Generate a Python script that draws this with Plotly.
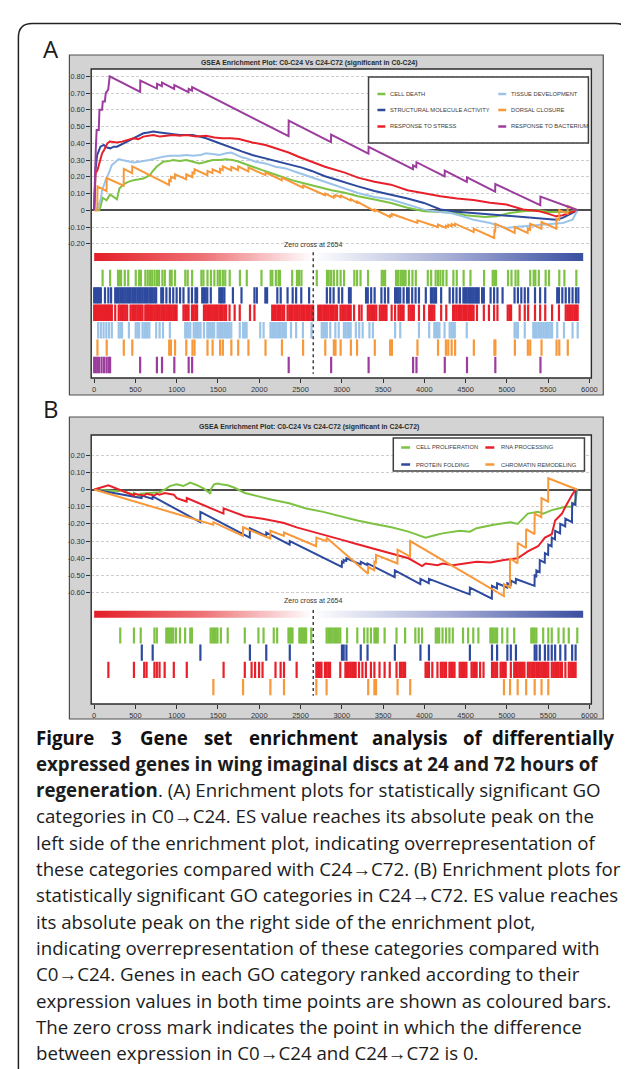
import numpy as np
import plotly.graph_objects as go

W, H = 629, 1069

# ---------------- DATA ----------------
x_tick_vals = [0, 500, 1000, 1500, 2000, 2500, 3000, 3500, 4000, 4500, 5000, 5500, 6000]
es_ticks_a = [0.8, 0.7, 0.6, 0.5, 0.4, 0.3, 0.2, 0.1, 0.0, -0.1, -0.2]
es_ticks_b = [0.2, 0.1, 0.0, -0.1, -0.2, -0.3, -0.4, -0.5, -0.6]
zero_cross = 2654
n_ranked = 5930

title_a = "GSEA Enrichment Plot: C0-C24 Vs C24-C72 (significant in C0-C24)"
title_b = "GSEA Enrichment Plot: C0-C24 Vs C24-C72 (significant in C24-C72)"

# ---- panel A : running enrichment scores (rank, ES) ----
a_cell_death_curve = [(0,0),(60,0.0),(76,0.02),(102,0.075),(150,0.06),(193,0.095),(276,0.065),(305,0.13),(326,0.14),(371,0.16),(413,0.17),(476,0.18),(545,0.185),(596,0.19),(676,0.21),(703,0.23),(756,0.26),(785,0.27),(836,0.29),(918,0.295),(956,0.30),(1036,0.295),(1116,0.30),(1196,0.29),(1276,0.28),(1324,0.285),(1373,0.29),(1436,0.30),(1526,0.30),(1596,0.305),(1676,0.30),(1756,0.29),(1836,0.275),(1916,0.26),(2036,0.24),(2156,0.22),(2276,0.20),(2396,0.18),(2516,0.165),(2636,0.15),(2756,0.135),(2876,0.12),(3036,0.105),(3196,0.084),(3396,0.065),(3596,0.044),(3796,0.015),(3996,-0.006),(4196,-0.01),(4396,-0.016),(4496,-0.03),(4596,-0.036),(4736,-0.04),(4876,-0.036),(5036,-0.016),(5196,-0.006),(5396,0.0),(5496,-0.01),(5596,-0.01),(5756,-0.01),(5856,0)]
a_structural_curve = [(0,0),(10,0.15),(16,0.24),(36,0.33),(56,0.36),(76,0.38),(116,0.39),(156,0.375),(196,0.37),(236,0.38),(276,0.38),(356,0.40),(416,0.415),(476,0.43),(536,0.445),(596,0.46),(656,0.465),(716,0.47),(796,0.465),(876,0.46),(956,0.455),(1036,0.45),(1116,0.45),(1196,0.45),(1276,0.44),(1356,0.43),(1436,0.415),(1516,0.40),(1596,0.385),(1676,0.37),(1796,0.35),(1916,0.33),(2036,0.315),(2156,0.30),(2276,0.285),(2396,0.27),(2516,0.255),(2636,0.235),(2796,0.203),(2916,0.185),(3036,0.165),(3196,0.143),(3396,0.115),(3596,0.094),(3796,0.07),(3996,0.044),(4196,0.005),(4396,-0.008),(4596,-0.016),(4796,-0.025),(4996,-0.036),(5136,-0.04),(5276,-0.046),(5436,-0.05),(5596,-0.056),(5676,-0.045),(5756,-0.026),(5856,0)]
a_stress_curve = [(0,0),(10,0.12),(16,0.22),(40,0.24),(56,0.27),(80,0.30),(96,0.34),(120,0.36),(136,0.38),(160,0.40),(188,0.41),(276,0.405),(336,0.41),(396,0.42),(476,0.43),(536,0.425),(596,0.44),(716,0.45),(796,0.44),(876,0.445),(956,0.45),(1036,0.445),(1116,0.45),(1236,0.44),(1356,0.445),(1456,0.435),(1556,0.43),(1656,0.43),(1756,0.425),(1836,0.415),(1916,0.405),(2076,0.39),(2236,0.365),(2356,0.345),(2476,0.32),(2636,0.29),(2796,0.26),(3036,0.225),(3196,0.195),(3396,0.17),(3596,0.153),(3796,0.12),(3996,0.10),(4196,0.084),(4396,0.07),(4596,0.062),(4796,0.045),(4996,0.034),(5196,0.005),(5396,-0.006),(5496,-0.02),(5596,-0.036),(5676,-0.03),(5756,-0.016),(5856,0)]
a_tissue_curve = [(0,0),(20,0.005),(48,0.02),(60,0.035),(81,0.07),(96,0.12),(114,0.15),(147,0.19),(176,0.22),(196,0.245),(214,0.27),(236,0.28),(297,0.305),(338,0.30),(421,0.29),(476,0.285),(545,0.29),(636,0.295),(669,0.30),(751,0.31),(834,0.32),(917,0.325),(1036,0.325),(1123,0.33),(1196,0.325),(1289,0.33),(1356,0.34),(1454,0.335),(1516,0.33),(1599,0.34),(1661,0.345),(1796,0.315),(1847,0.31),(1956,0.29),(2076,0.28),(2196,0.26),(2322,0.25),(2436,0.23),(2556,0.21),(2676,0.19),(2796,0.173),(2996,0.14),(3196,0.103),(3396,0.08),(3596,0.064),(3796,0.035),(3996,0.004),(4186,-0.01),(4316,-0.016),(4456,-0.035),(4596,-0.056),(4796,-0.076),(4996,-0.105),(5096,-0.10),(5196,-0.096),(5316,-0.09),(5436,-0.086),(5556,-0.08),(5676,-0.076),(5796,-0.056),(5856,0)]
a_dorsal_curve = [(0,0),(38,0),(40,0.143),(150,0.115),(152,0.193),(357,0.147),(359,0.247),(460,0.222),(462,0.263),(907,0.152),(909,0.18),(928,0.175),(930,0.20),(978,0.19),(980,0.215),(1114,0.185),(1116,0.215),(1189,0.198),(1191,0.225),(1214,0.22),(1216,0.245),(1371,0.21),(1373,0.235),(1433,0.222),(1435,0.245),(1524,0.225),(1526,0.248),(1557,0.24),(1559,0.262),(1660,0.238),(1662,0.26),(1743,0.24),(1745,0.262),(1867,0.232),(1869,0.255),(2074,0.21),(2076,0.225),(2273,0.18),(2275,0.195),(2529,0.135),(2531,0.148),(2798,0.09),(2800,0.10),(2902,0.075),(2904,0.086),(2922,0.082),(2924,0.092),(2984,0.078),(2986,0.088),(3108,0.058),(3110,0.066),(3183,0.045),(3185,0.052),(3398,-0.005),(3400,0.004),(3584,-0.04),(3586,-0.03),(3605,-0.035),(3607,-0.022),(3915,-0.075),(3917,-0.06),(4164,-0.10),(4166,-0.085),(4259,-0.105),(4261,-0.092),(4288,-0.098),(4290,-0.086),(4329,-0.095),(4331,-0.082),(4371,-0.092),(4373,-0.08),(4598,-0.13),(4600,-0.11),(4847,-0.165),(4849,-0.12),(4859,-0.123),(4861,-0.08),(5095,-0.135),(5097,-0.10),(5252,-0.135),(5254,-0.11),(5281,-0.117),(5283,-0.08),(5418,-0.11),(5420,-0.07),(5600,-0.11),(5602,-0.05),(5633,-0.057),(5635,0.0),(5736,-0.02),(5738,0.025),(5860,0)]
a_bacterium_curve = [(0,0),(8,0.24),(20,0.37),(30,0.48),(56,0.48),(64,0.60),(96,0.60),(104,0.65),(130,0.65),(140,0.70),(170,0.72),(188,0.80),(557,0.707),(559,0.775),(760,0.727),(762,0.755),(820,0.741),(822,0.762),(969,0.725),(971,0.748),(1143,0.705),(1145,0.725),(1185,0.715),(1187,0.735),(2355,0.443),(2357,0.535),(2869,0.407),(2871,0.452),(3323,0.339),(3325,0.379),(3862,0.245),(3864,0.268),(3903,0.258),(3905,0.287),(4246,0.202),(4248,0.237),(4515,0.170),(4517,0.197),(4858,0.112),(4860,0.157),(5405,0.03),(5407,0.082),(5860,0.0)]

# ---- panel A : gene-set member ranks ----
a_cell_death_hits = [102,193,289,305,326,371,413,504,545,566,620,649,678,703,732,761,785,827,856,918,939,980,1104,1133,1187,1299,1324,1373,1415,1456,1497,1526,1559,1588,1642,1766,1849,2027,2139,2159,2201,2234,2250,2399,2457,2482,2511,2697,2821,2842,2871,2904,2945,2986,3028,3152,3185,3227,3318,3484,3504,3525,3657,3682,3711,3732,3752,3773,3814,3856,3897,4042,4083,4137,4166,4195,4228,4269,4352,4393,4476,4559,4724,4828,4849,4869,5014,5056,5105,5138,5283,5325,5345,5387,5470,5511,5635,5697,5842]
a_structural_hits = [0,15,32,48,65,81,131,172,205,255,276,297,317,338,359,379,400,421,441,462,483,503,524,545,565,586,607,627,648,669,689,710,731,751,813,834,875,917,958,999,1041,1082,1144,1185,1227,1247,1309,1330,1351,1371,1413,1516,1537,1557,1578,1681,1785,1942,1971,2074,2095,2219,2260,2343,2405,2447,2509,2604,2819,2860,2901,2963,3005,3087,3108,3294,3315,3356,3398,3480,3522,3563,3646,3667,3687,3708,3749,3791,3811,3853,3894,3935,4018,4080,4101,4121,4142,4204,4307,4349,4390,4431,4473,4493,4514,4535,4555,4576,4597,4617,4638,4659,4700,4721,4803,4845,4886,4948,5093,5134,5175,5217,5258,5341,5403,5465,5610,5631,5672,5713,5755,5796,5837,5866]
a_stress_hits = [0,15,32,48,65,81,98,114,131,147,164,180,197,214,255,297,317,338,359,379,400,441,462,483,503,524,545,565,586,619,636,652,669,689,710,731,751,772,793,813,834,855,875,896,917,937,958,979,999,1082,1103,1123,1144,1185,1206,1227,1247,1330,1351,1371,1392,1413,1433,1454,1475,1495,1516,1537,1557,1578,1599,1640,1702,1764,1888,1942,2157,2178,2198,2219,2240,2260,2281,2302,2343,2364,2385,2405,2426,2447,2467,2488,2509,2529,2550,2571,2591,2612,2633,2653,2715,2736,2756,2777,2798,2819,2839,2860,2881,2901,2922,2943,2984,3005,3025,3046,3067,3087,3108,3149,3211,3240,3315,3335,3356,3377,3398,3418,3460,3480,3501,3522,3542,3604,3646,3687,3708,3728,3749,3811,3832,3853,3873,3935,3997,4059,4080,4101,4121,4204,4266,4349,4369,4390,4411,4431,4452,4473,4493,4514,4535,4555,4576,4597,4638,4721,4783,4845,4886,5010,5031,5051,5155,5217,5258,5341,5403,5465,5548,5631,5713,5734,5755,5775,5796,5817,5837,5858]
a_tissue_hits = [48,81,114,147,180,214,297,317,338,421,503,524,545,586,607,627,648,669,751,793,834,917,1103,1123,1144,1165,1206,1227,1247,1268,1289,1330,1371,1392,1413,1433,1454,1495,1516,1537,1557,1578,1599,1619,1640,1661,1764,1805,1826,1847,2012,2053,2136,2157,2178,2198,2219,2240,2260,2281,2302,2322,2385,2447,2529,2633,2757,2777,2798,2819,2860,2922,2963,3025,3046,3067,3087,3108,3170,3211,3253,3335,3377,3646,3708,3935,4059,4121,4142,4163,4183,4245,4307,4328,4349,4369,4514,5093,5113,5134,5217,5320,5341,5361,5382,5403,5423,5444,5465,5486,5506,5527,5548,5610,5692,5796,5858]
a_dorsal_hits = [40,152,359,462,909,930,980,1116,1191,1216,1373,1435,1526,1559,1662,1745,1869,2076,2275,2531,2800,2904,2924,2986,3110,3185,3400,3586,3607,3917,4166,4261,4290,4331,4373,4600,4849,4861,5097,5254,5283,5420,5602,5635,5738]
a_bacterium_hits = [0,20,40,60,90,120,150,175,193,557,760,822,971,1145,1187,2357,2871,3325,3864,3905,4248,4517,4860,5407]

# ---- panel B : running enrichment scores (rank, ES) ----
b_proliferation_curve = [(0,0),(150,-0.005),(296,-0.01),(316,-0.005),(480,-0.03),(482,-0.02),(562,-0.04),(564,-0.025),(709,-0.02),(792,-0.016),(874,0.005),(916,0.02),(998,0.03),(1081,0.02),(1102,0.025),(1164,0.04),(1246,0.025),(1329,0.005),(1409,-0.025),(1411,0.0),(1453,0.03),(1494,0.035),(1535,0.03),(1618,0.025),(1701,0.01),(1825,-0.02),(1990,-0.04),(2155,-0.06),(2362,-0.08),(2568,-0.11),(2775,-0.13),(2982,-0.155),(3188,-0.18),(3395,-0.20),(3601,-0.22),(3808,-0.245),(4015,-0.28),(4139,-0.265),(4221,-0.255),(4428,-0.24),(4552,-0.245),(4634,-0.225),(4841,-0.205),(5048,-0.19),(5131,-0.20),(5254,-0.14),(5378,-0.13),(5440,-0.14),(5544,-0.12),(5626,-0.11),(5709,-0.10),(5791,-0.10),(5833,-0.06),(5853,0)]
b_rna_curve = [(0,0),(170,0.02),(172,0.024),(482,-0.035),(484,-0.025),(606,-0.035),(635,-0.025),(730,-0.035),(759,-0.025),(792,-0.03),(854,-0.02),(965,-0.03),(1000,-0.05),(1120,-0.07),(1122,-0.05),(1566,-0.14),(1568,-0.11),(1825,-0.155),(1998,-0.165),(2040,-0.17),(2197,-0.185),(2300,-0.195),(2453,-0.22),(2692,-0.25),(2858,-0.27),(2982,-0.29),(3168,-0.315),(3395,-0.345),(3601,-0.37),(3808,-0.40),(3973,-0.445),(4015,-0.43),(4159,-0.44),(4221,-0.43),(4345,-0.44),(4510,-0.43),(4634,-0.42),(4800,-0.425),(4965,-0.41),(5131,-0.40),(5254,-0.36),(5378,-0.33),(5461,-0.28),(5544,-0.26),(5585,-0.18),(5668,-0.14),(5709,-0.10),(5791,-0.03),(5833,0)]
b_folding_curve = [(0,0),(575,-0.05),(577,-0.035),(707,-0.055),(709,-0.04),(1285,-0.19),(1287,-0.13),(1885,-0.28),(1887,-0.225),(2083,-0.27),(2085,-0.25),(2368,-0.32),(2370,-0.30),(3000,-0.45),(3002,-0.42),(3021,-0.425),(3023,-0.41),(3054,-0.415),(3056,-0.40),(3228,-0.435),(3230,-0.42),(3310,-0.44),(3312,-0.43),(3641,-0.51),(3643,-0.47),(3951,-0.55),(3953,-0.52),(4054,-0.545),(4056,-0.52),(4550,-0.61),(4552,-0.57),(4818,-0.635),(4820,-0.56),(4880,-0.575),(4882,-0.545),(5004,-0.57),(5006,-0.545),(5046,-0.555),(5048,-0.53),(5108,-0.545),(5110,-0.52),(5335,-0.56),(5337,-0.50),(5356,-0.505),(5358,-0.47),(5397,-0.48),(5399,-0.41),(5459,-0.425),(5461,-0.37),(5500,-0.38),(5502,-0.32),(5542,-0.33),(5544,-0.28),(5583,-0.29),(5585,-0.24),(5645,-0.255),(5647,-0.20),(5707,-0.215),(5709,-0.17),(5789,-0.19),(5791,-0.08),(5831,-0.09),(5833,0.0),(5850,0.0)]
b_chromatin_curve = [(0,0),(1442,-0.205),(1444,-0.19),(1802,-0.27),(1804,-0.22),(2133,-0.285),(2135,-0.24),(2298,-0.27),(2300,-0.25),(2690,-0.33),(2692,-0.28),(2814,-0.30),(2816,-0.28),(3318,-0.49),(3320,-0.45),(3393,-0.47),(3395,-0.42),(3413,-0.425),(3415,-0.38),(3674,-0.43),(3676,-0.35),(3827,-0.39),(3829,-0.30),(4963,-0.62),(4965,-0.55),(5037,-0.57),(5039,-0.40),(5129,-0.43),(5131,-0.31),(5232,-0.34),(5234,-0.23),(5335,-0.26),(5337,-0.14),(5418,-0.16),(5420,-0.05),(5500,-0.07),(5502,0.065),(5850,0.0)]

# ---- panel B : gene-set member ranks ----
b_proliferation_hits = [316,482,564,730,759,874,895,916,936,957,990,1040,1102,1164,1184,1411,1432,1453,1473,1494,1535,1618,1825,1990,2052,2176,2217,2354,2370,2387,2403,2486,2502,2519,2535,2552,2568,2630,2816,2837,2858,2878,2899,2920,2940,2961,2982,3064,3188,3271,3312,3353,3395,3415,3436,3519,3663,3767,3891,3932,3973,4139,4159,4180,4221,4263,4304,4345,4469,4531,4593,4655,4800,4820,4841,4862,4882,4944,5006,5089,5296,5316,5337,5358,5440,5502,5544,5626,5688,5750,5853]
b_folding_hits = [577,709,1287,1887,2085,2370,3002,3023,3056,3230,3312,3643,3953,4056,4552,4820,4882,5006,5048,5110,5337,5358,5399,5461,5502,5544,5585,5647,5709,5791,5833]
b_rna_hits = [172,482,606,635,730,759,792,854,965,1122,1568,1825,1907,1949,1998,2040,2197,2259,2300,2453,2692,2713,2734,2754,2796,2816,2837,2858,2982,3044,3064,3085,3106,3126,3147,3168,3209,3250,3292,3353,3395,3457,3519,3581,3663,3705,3725,3746,3767,4015,4035,4056,4097,4159,4200,4221,4242,4263,4304,4325,4345,4366,4428,4448,4469,4490,4510,4572,4593,4614,4634,4676,4717,4820,4841,4862,4882,4924,4944,4965,4986,5048,5089,5110,5131,5151,5172,5193,5213,5254,5275,5296,5316,5337,5358,5378,5399,5420,5440,5461,5482,5502,5544,5564,5585,5606,5626,5647,5668,5709,5750,5771,5791,5812,5833]
b_chromatin_hits = [1444,1804,2135,2300,2692,2816,3320,3395,3415,3676,3829,4965,5039,5131,5234,5337,5420,5502]

# gene sets: (legend label, colour, curve, hits) in hit-row order
GREEN, BLUE, RED, LBLUE, ORANGE, PURPLE = "#7dc243", "#2e4a9e", "#e8202a", "#9cc4e9", "#f7983a", "#9c3d9d"
sets_a = [
    ("CELL DEATH", GREEN, a_cell_death_curve, a_cell_death_hits),
    ("STRUCTURAL MOLECULE ACTIVITY", BLUE, a_structural_curve, a_structural_hits),
    ("RESPONSE TO STRESS", RED, a_stress_curve, a_stress_hits),
    ("TISSUE DEVELOPMENT", LBLUE, a_tissue_curve, a_tissue_hits),
    ("DORSAL CLOSURE", ORANGE, a_dorsal_curve, a_dorsal_hits),
    ("RESPONSE TO BACTERIUM", PURPLE, a_bacterium_curve, a_bacterium_hits),
]
sets_b = [
    ("CELL PROLIFERATION", GREEN, b_proliferation_curve, b_proliferation_hits),
    ("PROTEIN FOLDING", BLUE, b_folding_curve, b_folding_hits),
    ("RNA PROCESSING", RED, b_rna_curve, b_rna_hits),
    ("CHROMATIN REMODELING", ORANGE, b_chromatin_curve, b_chromatin_hits),
]
legend_a = [["CELL DEATH", "TISSUE DEVELOPMENT"], ["STRUCTURAL MOLECULE ACTIVITY", "DORSAL CLOSURE"], ["RESPONSE TO STRESS", "RESPONSE TO BACTERIUM"]]
legend_b = [["CELL PROLIFERATION", "RNA PROCESSING"], ["PROTEIN FOLDING", "CHROMATIN REMODELING"]]

caption_lines = [
    "<b>expressed genes in wing imaginal discs at 24 and 72 hours of</b>",
    "<b>regeneration</b>. (A) Enrichment plots for statistically significant GO",
    "categories in C0→C24. ES value reaches its absolute peak on the",
    "left side of the enrichment plot, indicating overrepresentation of",
    "these categories compared with C24→C72. (B) Enrichment plots for",
    "statistically significant GO categories in C24→C72. ES value reaches",
    "its absolute peak on the right side of the enrichment plot,",
    "indicating overrepresentation of these categories compared with",
    "C0→C24. Genes in each GO category ranked according to their",
    "expression values in both time points are shown as coloured bars.",
    "The zero cross mark indicates the point in which the difference",
    "between expression in C0→C24 and C24→C72 is 0.",
]
caption_first_words = ["Figure", "3", "Gene", "set", "enrichment", "analysis", "of", "differentially"]

# ---------------- LAYOUT HELPERS ----------------
def fx(p): return p / W
def fy(p): return 1 - p / H

AX_FONT = "Liberation Sans, Arial, sans-serif"
CAP_FONT = "Open Sans, Noto Sans, sans-serif"
TXT = "#333333"

# panel geometry in pixels
panels = {
    "A": dict(box=(62, 47, 601, 387), plot=(84, 61, 589, 370), split=241, es_zero=202.3, es_px=167.5,
              row0=270.0, row_px=17.4, grad=249.0, grad_h=8.0, zc_text=236.0, title_y=54.5,
              legend=(364, 69, 586, 135), leg_rows=[86, 102, 118.5], leg_cols=[(373, 381, 384), (495, 503, 506)],
              label_y=40),
    "B": dict(box=(62, 409, 601, 711), plot=(84, 427, 589, 696), split=597, es_zero=481.5, es_px=172.0,
              row0=627.5, row_px=17.2, grad=606.0, grad_h=6.5, zc_text=592.6, title_y=418.5,
              legend=(389, 430, 582, 463), leg_rows=[439.5, 456.5], leg_cols=[(397, 406, 410), (482, 491, 496)],
              label_y=400),
}

def tick_text(v):
    return "0" if abs(v) < 1e-9 else f"{v:.2f}"

fig = go.Figure()
layout_axes = {}
shapes = []
annotations = []

axis_ids = {"A": ("x", "y", "y2"), "B": ("x2", "y3", "y4")}

def ax_key(a):  # "x" -> "xaxis", "y3" -> "yaxis3"
    return a[0] + "axis" + a[1:]

for pname, sets, es_ticks, legend_rows, title in [("A", sets_a, es_ticks_a, legend_a, title_a),
                                                    ("B", sets_b, es_ticks_b, legend_b, title_b)]:
    g = panels[pname]
    xa, ya, yh = axis_ids[pname]
    L, T, R, B = g["plot"]
    split = g["split"]
    es_top = (g["es_zero"] - T) / g["es_px"]
    es_bot = (g["es_zero"] - split) / g["es_px"]
    h_top = -(g["row0"] - split) / g["row_px"]
    h_bot = h_top + (B - split) / g["row_px"]
    grad_c = h_top + (g["grad"] - split) / g["row_px"]
    grad_half = g["grad_h"] / 2 / g["row_px"]

    layout_axes[ax_key(xa)] = dict(domain=[fx(L), fx(R)], range=[-36, 6024], anchor=yh, showgrid=False,
                                   zeroline=False, showline=False, ticks="outside", ticklen=4, tickwidth=1,
                                   tickcolor=TXT, tickvals=x_tick_vals, ticktext=[str(v) for v in x_tick_vals],
                                   tickfont=dict(family=AX_FONT, size=7.5, color=TXT), fixedrange=True)
    layout_axes[ax_key(ya)] = dict(domain=[fy(split), fy(T)], range=[es_bot, es_top], anchor=xa,
                                   tickvals=es_ticks, ticktext=[tick_text(v) for v in es_ticks],
                                   ticks="outside", ticklen=4, tickwidth=1, tickcolor=TXT,
                                   tickfont=dict(family=AX_FONT, size=7.3, color=TXT),
                                   showgrid=True, gridcolor="#cdcdcd", griddash="3px,2px", gridwidth=1,
                                   zeroline=True, zerolinecolor="#4d4d4d", zerolinewidth=1.6 if pname == "A" else 2.2,
                                   showline=False, fixedrange=True)
    layout_axes[ax_key(yh)] = dict(domain=[fy(B), fy(split)], range=[h_bot, h_top], anchor=xa,
                                   showgrid=False, zeroline=False, showticklabels=False, ticks="",
                                   showline=False, fixedrange=True)

    # gray panel box and white plot area
    bx0, by0, bx1, by1 = g["box"]
    shapes.append(dict(type="rect", xref="paper", yref="paper", x0=fx(bx0), x1=fx(bx1), y0=fy(by1), y1=fy(by0),
                       fillcolor="#d3d3d3", line=dict(color="#505050", width=1.2), layer="below"))
    shapes.append(dict(type="rect", xref="paper", yref="paper", x0=fx(L), x1=fx(R), y0=fy(B), y1=fy(T),
                       fillcolor="white", line=dict(width=0), layer="below"))
    shapes.append(dict(type="rect", xref="paper", yref="paper", x0=fx(L), x1=fx(R), y0=fy(B), y1=fy(T),
                       fillcolor="rgba(0,0,0,0)", line=dict(color="#2b2b2b", width=1.4), layer="above"))

    # rank gradient bar
    edges = np.linspace(0, n_ranked, 301)
    mids = (edges[:-1] + edges[1:]) / 2
    zc = zero_cross / n_ranked
    fig.add_trace(go.Heatmap(x=edges, y=[grad_c - grad_half, grad_c + grad_half], z=[mids / n_ranked],
                             zmin=0, zmax=1, showscale=False, hoverinfo="skip", xaxis=xa, yaxis=yh,
                             colorscale=[[0, "#e41e26"], [zc * 0.5, "#ee7377"], [zc, "#ffffff"],
                                         [zc + (1 - zc) * 0.5, "#a7aed6"], [1, "#3a4fa1"]]))

    # enrichment score curves and hit bars
    for row, (name, col, curve, hits) in enumerate(sets):
        cr = [p[0] for p in curve]
        ce = [p[1] for p in curve]
        fig.add_trace(go.Scatter(x=cr, y=ce, mode="lines", line=dict(color=col, width=2),
                                 xaxis=xa, yaxis=ya, hoverinfo="skip", showlegend=False))
        hx, hy = [], []
        for r in hits:
            hx += [r, r, None]
            hy += [row - 0.47, row + 0.47, None]
        fig.add_trace(go.Scatter(x=hx, y=hy, mode="lines", line=dict(color=col, width=2.2),
                                 xaxis=xa, yaxis=yh, hoverinfo="skip", showlegend=False))

    # zero cross marker
    shapes.append(dict(type="line", xref=xa, yref=yh, x0=zero_cross, x1=zero_cross,
                       y0=grad_c - grad_half - 0.05, y1=len(sets) - 1 + 0.5,
                       line=dict(color="#333333", width=1.4, dash="dot"), layer="above"))
    annotations.append(dict(xref=xa, yref="paper", x=zero_cross, y=fy(g["zc_text"]), text=f"Zero cross at {zero_cross}",
                            showarrow=False, font=dict(family=AX_FONT, size=7, color=TXT),
                            xanchor="center", yanchor="middle"))

    # title
    annotations.append(dict(xref="paper", yref="paper", x=fx(304), y=fy(g["title_y"]), text=f"<b>{title}</b>",
                            showarrow=False, font=dict(family=AX_FONT, size=6.9, color="#2a2a2a"),
                            xanchor="center", yanchor="middle"))
    # panel letter
    annotations.append(dict(xref="paper", yref="paper", x=fx(43), y=fy(g["label_y"]), text=pname,
                            showarrow=False, font=dict(family=CAP_FONT, size=24, color="#1a1a1a"),
                            xanchor="center", yanchor="middle"))

    # legend box
    lx0, ly0, lx1, ly1 = g["legend"]
    shapes.append(dict(type="rect", xref="paper", yref="paper", x0=fx(lx0), x1=fx(lx1), y0=fy(ly1), y1=fy(ly0),
                       fillcolor="white", line=dict(color="#404040", width=1.5), layer="above"))
    colour_of = {s[0]: s[1] for s in sets}
    for ri, labels in enumerate(legend_rows):
        yy = g["leg_rows"][ri]
        for ci, lab in enumerate(labels):
            m0, m1, tx = g["leg_cols"][ci]
            shapes.append(dict(type="line", xref="paper", yref="paper", x0=fx(m0), x1=fx(m1), y0=fy(yy), y1=fy(yy),
                               line=dict(color=colour_of[lab], width=2.5), layer="above"))
            annotations.append(dict(xref="paper", yref="paper", x=fx(tx), y=fy(yy), text=lab, showarrow=False,
                                    font=dict(family=AX_FONT, size=5.8, color="#3c3c3c"),
                                    xanchor="left", yanchor="middle"))

# outer rounded frame
r = 14
x0, x1, yt = 10.5, 627.5, 15.5
path = (f"M {fx(x0)},{fy(H + 5)} L {fx(x0)},{fy(yt + r)} Q {fx(x0)},{fy(yt)} {fx(x0 + r)},{fy(yt)} "
        f"L {fx(x1 - r)},{fy(yt)} Q {fx(x1)},{fy(yt)} {fx(x1)},{fy(yt + r)} L {fx(x1)},{fy(H + 5)}")
shapes.insert(0, dict(type="path", xref="paper", yref="paper", path=path, line=dict(color="#222222", width=1.5),
                      layer="below"))

# caption
cap_y0, cap_dy, cap_size = 729.0, 26.3, 18.7
first_word_x = [26, 102.2, 131.2, 196.0, 241.5, 365.9, 457.7, 614]
for i, (wx, wd) in enumerate(zip(first_word_x, caption_first_words)):
    annotations.append(dict(xref="paper", yref="paper", x=fx(wx), y=fy(cap_y0), text=f"<b>{wd}</b>",
                            showarrow=False, font=dict(family=CAP_FONT, size=cap_size, color="#111111"),
                            xanchor="right" if i == len(caption_first_words) - 1 else "left", yanchor="middle"))
for i, line in enumerate(caption_lines):
    annotations.append(dict(xref="paper", yref="paper", x=fx(26), y=fy(cap_y0 + cap_dy * (i + 1)), text=line,
                            showarrow=False, font=dict(family=CAP_FONT, size=cap_size, color="#1c1c1c"),
                            xanchor="left", yanchor="middle"))

fig.update_layout(width=W, height=H, margin=dict(l=0, r=0, t=0, b=0), paper_bgcolor="white",
                  plot_bgcolor="rgba(0,0,0,0)", showlegend=False, shapes=shapes, annotations=annotations,
                  **layout_axes)
fig.write_html("out.html")
